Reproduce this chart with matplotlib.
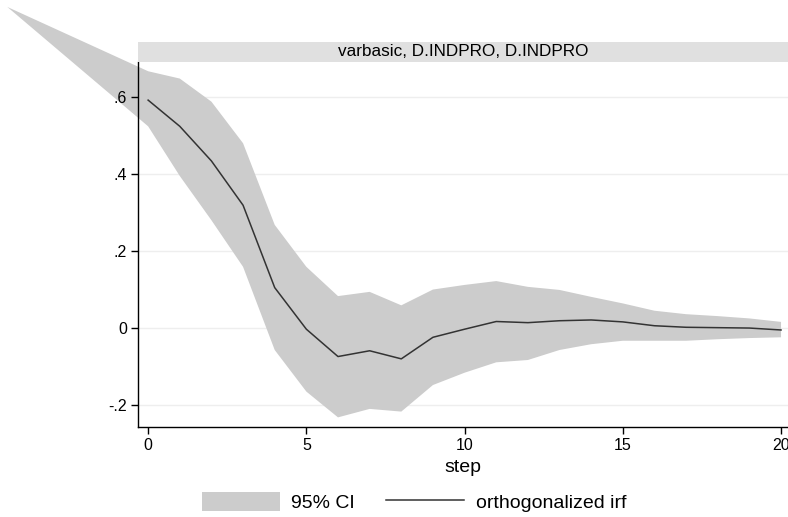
import matplotlib
matplotlib.use("Agg")
import matplotlib.pyplot as plt
from matplotlib.patches import Rectangle, Patch, Polygon
from matplotlib.lines import Line2D
import numpy as np

plt.rcParams['font.family'] = ['Liberation Sans', 'DejaVu Sans']

steps = list(range(21))
irf = [0.592, 0.524, 0.434, 0.319, 0.105, -0.003, -0.074, -0.059, -0.080, -0.024,
       -0.003, 0.017, 0.014, 0.019, 0.021, 0.016, 0.006, 0.002, 0.001, 0.000, -0.005]
ci_upper = [0.667, 0.648, 0.588, 0.480, 0.268, 0.159, 0.083, 0.094, 0.059, 0.100,
            0.112, 0.122, 0.107, 0.099, 0.081, 0.064, 0.045, 0.036, 0.031, 0.025, 0.016]
ci_lower = [0.524, 0.395, 0.280, 0.159, -0.057, -0.165, -0.232, -0.210, -0.217, -0.148,
            -0.116, -0.089, -0.083, -0.057, -0.042, -0.033, -0.033, -0.033, -0.029, -0.026, -0.024]
# stray start vertex of the CI polygon as rendered in the original (outside plot region)
ci_origin = (-4.45, 0.834)

xticks = [0, 5, 10, 15, 20]
yticks = [-0.2, 0, 0.2, 0.4, 0.6]
ytick_labels = ['-.2', '0', '.2', '.4', '.6']
panel_title = 'varbasic, D.INDPRO, D.INDPRO'

W, H = 788, 517
fig = plt.figure(figsize=(W / 100, H / 100), dpi=100)
ax = fig.add_axes([138 / W, 1 - 427 / H, (788 - 138) / W, (427 - 62) / H])

band_color = '#cccccc'
for yv in yticks:
    ax.axhline(yv, color='#eeeeee', lw=1.0, zorder=0.5)
verts = [ci_origin] + list(zip(steps, ci_upper)) + list(zip(steps[::-1], ci_lower[::-1]))
poly = Polygon(verts, closed=True, facecolor=band_color, edgecolor='none',
               clip_on=False, zorder=1)
ax.add_patch(poly)
ax.plot(steps, irf, color='#333333', lw=1.1, zorder=3)

ax.set_xlim(-0.32, 20.22)
ax.set_ylim(-0.257, 0.691)
ax.set_xticks(xticks)
ax.set_xticklabels([str(t) for t in xticks])
ax.set_yticks(yticks)
ax.set_yticklabels(ytick_labels)
for s in ['top', 'right']:
    ax.spines[s].set_visible(False)
for s in ['left', 'bottom']:
    ax.spines[s].set_color('#000000')
    ax.spines[s].set_linewidth(1.0)
    ax.spines[s].set_zorder(4)
ax.tick_params(axis='both', direction='out', length=5, width=1, labelsize=11.5,
               colors='#000000', pad=3)
ax.set_xlabel('step', fontsize=14, labelpad=4)

# header strip
fig.patches.append(Rectangle((138 / W, 1 - 62 / H), (788 - 138) / W, 20 / H,
                             transform=fig.transFigure, facecolor='#e0e0e0',
                             edgecolor='none', zorder=0))
fig.text((138 + 788) / 2 / W, 1 - 52 / H, panel_title, ha='center', va='center',
         fontsize=12.3)

handles = [Patch(facecolor=band_color, edgecolor='none'),
           Line2D([], [], color='#333333', lw=1.1)]
fig.legend(handles, ['95% CI', 'orthogonalized irf'], loc='center',
           bbox_to_anchor=(414 / W, 1 - 502 / H), ncol=2, frameon=False,
           fontsize=14, handlelength=4.0, handleheight=1.1, handletextpad=0.6,
           columnspacing=1.6)

fig.savefig('out.png', dpi=100)
